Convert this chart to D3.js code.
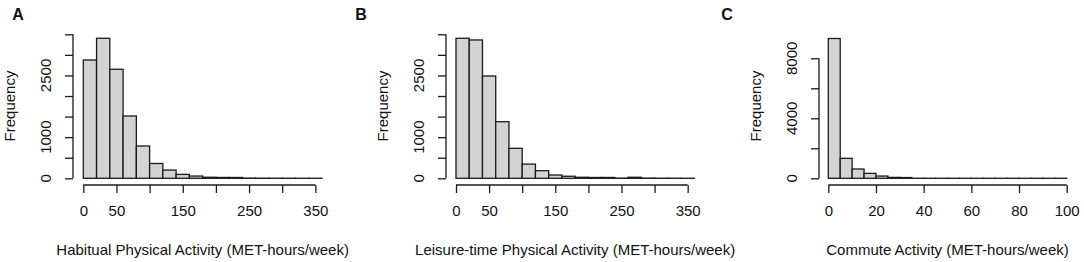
<!DOCTYPE html>
<html>
<head>
<meta charset="utf-8">
<script src="https://cdn.jsdelivr.net/npm/d3@7"></script>
<style>
	body { margin: 0; background: #fff; }
	text { font-family: "Liberation Sans", Arial, sans-serif; fill: #111; }
</style>
</head>
<body>
<div id="chart"></div>
<script>
// Histogram counts (bins of 20 for A and B, bins of 5 for C)
let countsA = [2876, 3403, 2650, 1514, 785, 360, 200, 95, 55, 25, 20, 20, 5, 3, 2, 2, 1, 1];
let countsB = [3403, 3362, 2487, 1376, 729, 345, 185, 80, 50, 25, 20, 20, 5, 25, 5, 3, 2, 1];
let countsC = [9320, 1330, 620, 330, 150, 60, 50, 5, 3, 2, 2, 1, 1, 1, 1, 1, 1, 1, 1, 1];

let binWidthA = 20;
let binWidthB = 20;
let binWidthC = 5;

// Ticks and which of them R kept a label for
let xTicksAB = [0, 50, 100, 150, 200, 250, 300, 350];
let xLabelsAB = [0, 50, 150, 250, 350];
let yTicksAB = [0, 500, 1000, 1500, 2000, 2500, 3000, 3500];
let yLabelsAB = [0, 1000, 2500];
let xTicksC = [0, 20, 40, 60, 80, 100];
let xLabelsC = [0, 20, 40, 60, 80, 100];
let yTicksC = [0, 2000, 4000, 6000, 8000];
let yLabelsC = [0, 4000, 8000];

let panelLetters = ['A', 'B', 'C'];
let xTitles = [
	'Habitual Physical Activity (MET-hours/week)',
	'Leisure-time Physical Activity (MET-hours/week)',
	'Commute Activity (MET-hours/week)'
];

let width = 1084;
let height = 262;
let fontSize = 15;

let svg = d3.select('#chart').append('svg')
		.attr('width', width)
		.attr('height', height);

makeHistogram({
	letter: panelLetters[0], letterX: 18, title: xTitles[0],
	counts: countsA, binWidth: binWidthA,
	xRange: [83.3, 322], xDomain: [0, 360],
	yRange: [178.3, 34.3], yDomain: [0, 3500],
	xTicks: xTicksAB, xLabels: xLabelsAB, yTicks: yTicksAB, yLabels: yLabelsAB,
	axisX: 73
});

makeHistogram({
	letter: panelLetters[1], letterX: 361, title: xTitles[1],
	counts: countsB, binWidth: binWidthB,
	xRange: [456, 694.3], xDomain: [0, 360],
	yRange: [178.3, 34.3], yDomain: [0, 3500],
	xTicks: xTicksAB, xLabels: xLabelsAB, yTicks: yTicksAB, yLabels: yLabelsAB,
	axisX: 446
});

makeHistogram({
	letter: panelLetters[2], letterX: 727, title: xTitles[2],
	counts: countsC, binWidth: binWidthC,
	xRange: [828.3, 1066.7], xDomain: [0, 100],
	yRange: [178.3, 58.3], yDomain: [0, 8000],
	xTicks: xTicksC, xLabels: xLabelsC, yTicks: yTicksC, yLabels: yLabelsC,
	axisX: 819
});

/**
 * Draws one R-style histogram panel (bars, axes with detached lines, labels).
 *
 * @param p {object} panel settings: data, scale ranges and tick lists
 */
function makeHistogram(p) {
	let g = svg.append('g');

	let xScale = d3.scaleLinear().domain(p.xDomain).range(p.xRange);
	let yScale = d3.scaleLinear().domain(p.yDomain).range(p.yRange);

	let bins = p.counts.map((c, i) => ({x0: i * p.binWidth, x1: (i + 1) * p.binWidth, count: c}));

	// Bars
	g.append('g').selectAll('rect').data(bins).enter().append('rect')
			.attr('x', d => xScale(d.x0))
			.attr('y', d => yScale(d.count))
			.attr('width', d => xScale(d.x1) - xScale(d.x0))
			.attr('height', d => yScale(0) - yScale(d.count))
			.attr('fill', '#d3d3d3')
			.attr('stroke', '#1a1a1a')
			.attr('stroke-width', 1.3);

	let axisY = 185; // x-axis line sits below the bars

	// x-axis: ticks via d3, domain line redrawn from first to last tick
	let xAxis = g.append('g')
			.attr('transform', `translate(0, ${axisY})`)
			.call(d3.axisBottom(xScale)
					.tickValues(p.xTicks)
					.tickSize(8)
					.tickPadding(12)
					.tickFormat(d => p.xLabels.includes(d) ? d : ''));
	xAxis.select('.domain').remove();
	xAxis.selectAll('line').attr('stroke', '#1a1a1a').attr('stroke-width', 1.3);
	xAxis.selectAll('text')
			.attr('font-size', fontSize)
			.attr('font-family', '"Liberation Sans", Arial, sans-serif')
			.attr('fill', '#111');
	xAxis.append('line')
			.attr('x1', xScale(p.xTicks[0]))
			.attr('x2', xScale(p.xTicks[p.xTicks.length - 1]))
			.attr('stroke', '#1a1a1a')
			.attr('stroke-width', 1.3);

	// y-axis
	let yAxis = g.append('g')
			.attr('transform', `translate(${p.axisX}, 0)`)
			.call(d3.axisLeft(yScale)
					.tickValues(p.yTicks)
					.tickSize(8)
					.tickFormat(''));
	yAxis.select('.domain').remove();
	yAxis.selectAll('line').attr('stroke', '#1a1a1a').attr('stroke-width', 1.3);
	yAxis.append('line')
			.attr('y1', yScale(p.yTicks[0]))
			.attr('y2', yScale(p.yTicks[p.yTicks.length - 1]))
			.attr('stroke', '#1a1a1a')
			.attr('stroke-width', 1.3);

	// Rotated y tick labels, as R draws them (las = 0)
	g.append('g').selectAll('text').data(p.yLabels).enter().append('text')
			.attr('transform', d => `translate(${p.axisX - 22}, ${yScale(d)}) rotate(-90)`)
			.attr('text-anchor', 'middle')
			.attr('font-size', fontSize)
			.text(d => d);

	// Axis titles
	g.append('text')
			.attr('x', (p.xRange[0] + p.xRange[1]) / 2)
			.attr('y', 255)
			.attr('text-anchor', 'middle')
			.attr('font-size', fontSize)
			.text(p.title);

	g.append('text')
			.attr('transform', `translate(${p.axisX - 58}, 106) rotate(-90)`)
			.attr('text-anchor', 'middle')
			.attr('font-size', fontSize)
			.text('Frequency');

	// Panel letter
	g.append('text')
			.attr('x', p.letterX)
			.attr('y', 20)
			.attr('text-anchor', 'middle')
			.attr('font-size', 16)
			.attr('font-weight', 'bold')
			.text(p.letter);
}
</script>
</body>
</html>
